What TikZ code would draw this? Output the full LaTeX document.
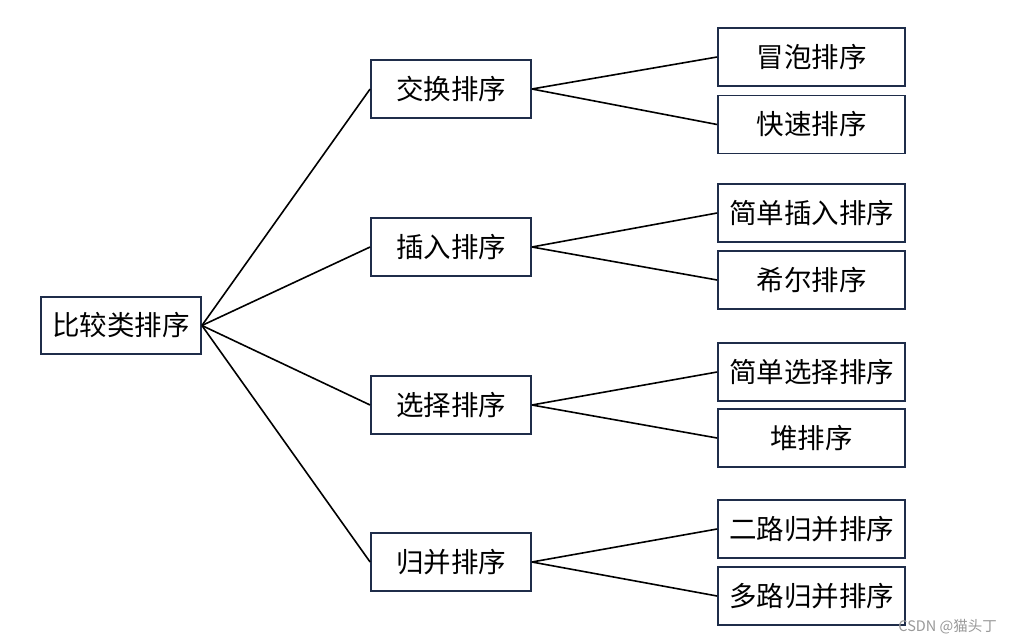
\documentclass[tikz,border=0pt]{standalone}
\usepackage{fontspec}
\newfontfamily\cjk{Noto Sans CJK SC}
\begin{document}
\begin{tikzpicture}[x=1pt,y=-1pt,
  box/.style={draw=boxc,line width=1.8pt,fill=white,inner sep=0pt,font=\cjk\fontsize{27.5}{30}\selectfont},
  conn/.style={line width=1.6pt,black}]
\definecolor{boxc}{HTML}{1F2D4A}
\useasboundingbox (0,0) rectangle (1012,643);
\fill[white] (0,0) rectangle (1012,643);
% root
\node[box,minimum width=160pt,minimum height=57pt] (root) at (121,325.5) {比较类排序};
% level 2
\foreach \n/\y/\t in {a/89/交换排序,b/247/插入排序,c/405/选择排序,d/562/归并排序}
  \node[box,minimum width=160pt,minimum height=58pt] (\n) at (451,\y) {\t};
% level 3
\foreach \n/\y/\t in {a1/57/冒泡排序,a2/124.5/快速排序,b1/213/简单插入排序,b2/280/希尔排序,c1/372/简单选择排序,c2/438/堆排序,d1/529/二路归并排序,d2/596/多路归并排序}
  \node[box,minimum width=187pt,minimum height=58pt] (\n) at (811.5,\y) {\t};
% connectors
\foreach \n in {a,b,c,d}
  \draw[conn] (root.east) -- (\n.west);
\foreach \p in {a,b,c,d}{
  \draw[conn] (\p.east) -- (\p1.west);
  \draw[conn] (\p.east) -- (\p2.west);
}
\node[anchor=east,text=gray!80,font=\cjk\fontsize{14.5}{16}\selectfont,inner sep=0pt] (wm) at (997,627) {CSDN @猫头丁};
\end{tikzpicture}
\end{document}
